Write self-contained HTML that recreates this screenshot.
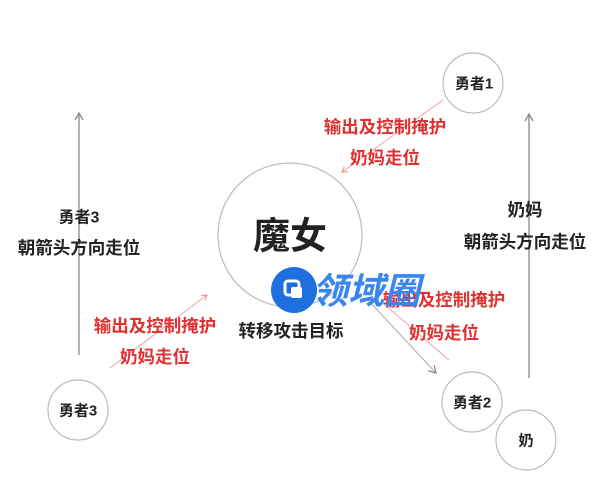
<!DOCTYPE html>
<html><head><meta charset="utf-8"><style>
body{margin:0;background:#fff;}
svg text{font-family:"Liberation Sans","Noto Sans CJK SC",sans-serif;text-anchor:middle;dominant-baseline:central;}
</style></head><body>
<svg width="600" height="484" viewBox="0 0 600 484" xmlns="http://www.w3.org/2000/svg">
<defs>
<marker id="g" markerWidth="10" markerHeight="10" refX="8" refY="5" orient="auto" markerUnits="userSpaceOnUse"><path d="M1,1 L8,5 L1,9" fill="none" stroke="#888" stroke-width="1.3"/></marker>
<marker id="r" markerWidth="8" markerHeight="8" refX="6" refY="4" orient="auto" markerUnits="userSpaceOnUse"><path d="M1,1 L6,4 L1,7" fill="none" stroke="#e88" stroke-width="1"/></marker>
</defs>
<g fill="none" stroke="#bbb" stroke-width="1.2">
<circle cx="290" cy="235" r="72"/>
<circle cx="473" cy="83" r="30"/>
<circle cx="78" cy="410" r="30"/>
<circle cx="472" cy="402" r="30"/>
<circle cx="526" cy="440" r="30" fill="#fff"/>
</g>
<line x1="79" y1="355" x2="79" y2="113" stroke="#999" stroke-width="1.5" marker-end="url(#g)"/>
<line x1="529" y1="378" x2="529" y2="114" stroke="#999" stroke-width="1.5" marker-end="url(#g)"/>
<line x1="368" y1="300" x2="436" y2="373" stroke="#aaa" stroke-width="1" marker-end="url(#g)"/>
<line x1="443" y1="100" x2="342" y2="172" stroke="#f0a0a0" stroke-width="1" marker-end="url(#r)"/>
<line x1="110" y1="368" x2="207" y2="295" stroke="#f0a0a0" stroke-width="1" marker-end="url(#r)"/>
<line x1="449" y1="360" x2="385" y2="305" stroke="#f0a0a0" stroke-width="1"/>
<g fill="#222" font-size="17.5" font-weight="bold">
<text x="290" y="236" font-size="37">魔女</text>
<text x="474" y="84" font-size="15">勇者1</text>
<text x="78" y="411" font-size="15">勇者3</text>
<text x="472" y="403" font-size="15">勇者2</text>
<text x="526" y="441" font-size="15">奶</text>
<text x="79" y="218" font-size="16">勇者3</text>
<text x="79" y="248">朝箭头方向走位</text>
<text x="525" y="210">奶妈</text>
<text x="525" y="242">朝箭头方向走位</text>
<text x="291" y="331">转移攻击目标</text>
</g>
<g fill="#e03030" font-size="17.5" font-weight="bold">
<text x="385" y="127">输出及控制掩护</text>
<text x="385" y="158">奶妈走位</text>
<text x="155" y="326">输出及控制掩护</text>
<text x="155" y="357">奶妈走位</text>
<text x="444" y="300">输出及控制掩护</text>
<text x="444" y="333">奶妈走位</text>
</g>
<circle cx="294" cy="290" r="23" fill="#1e6fe0"/>
<rect x="285" y="281" width="14" height="14" rx="3" fill="none" stroke="#fff" stroke-width="3"/>
<rect x="291" y="287" width="11" height="11" rx="2" fill="#fff"/>
<text x="366" y="291" font-size="36" font-weight="bold" font-style="italic" fill="#3a86f0">领域圈</text>
</svg>
</body></html>
